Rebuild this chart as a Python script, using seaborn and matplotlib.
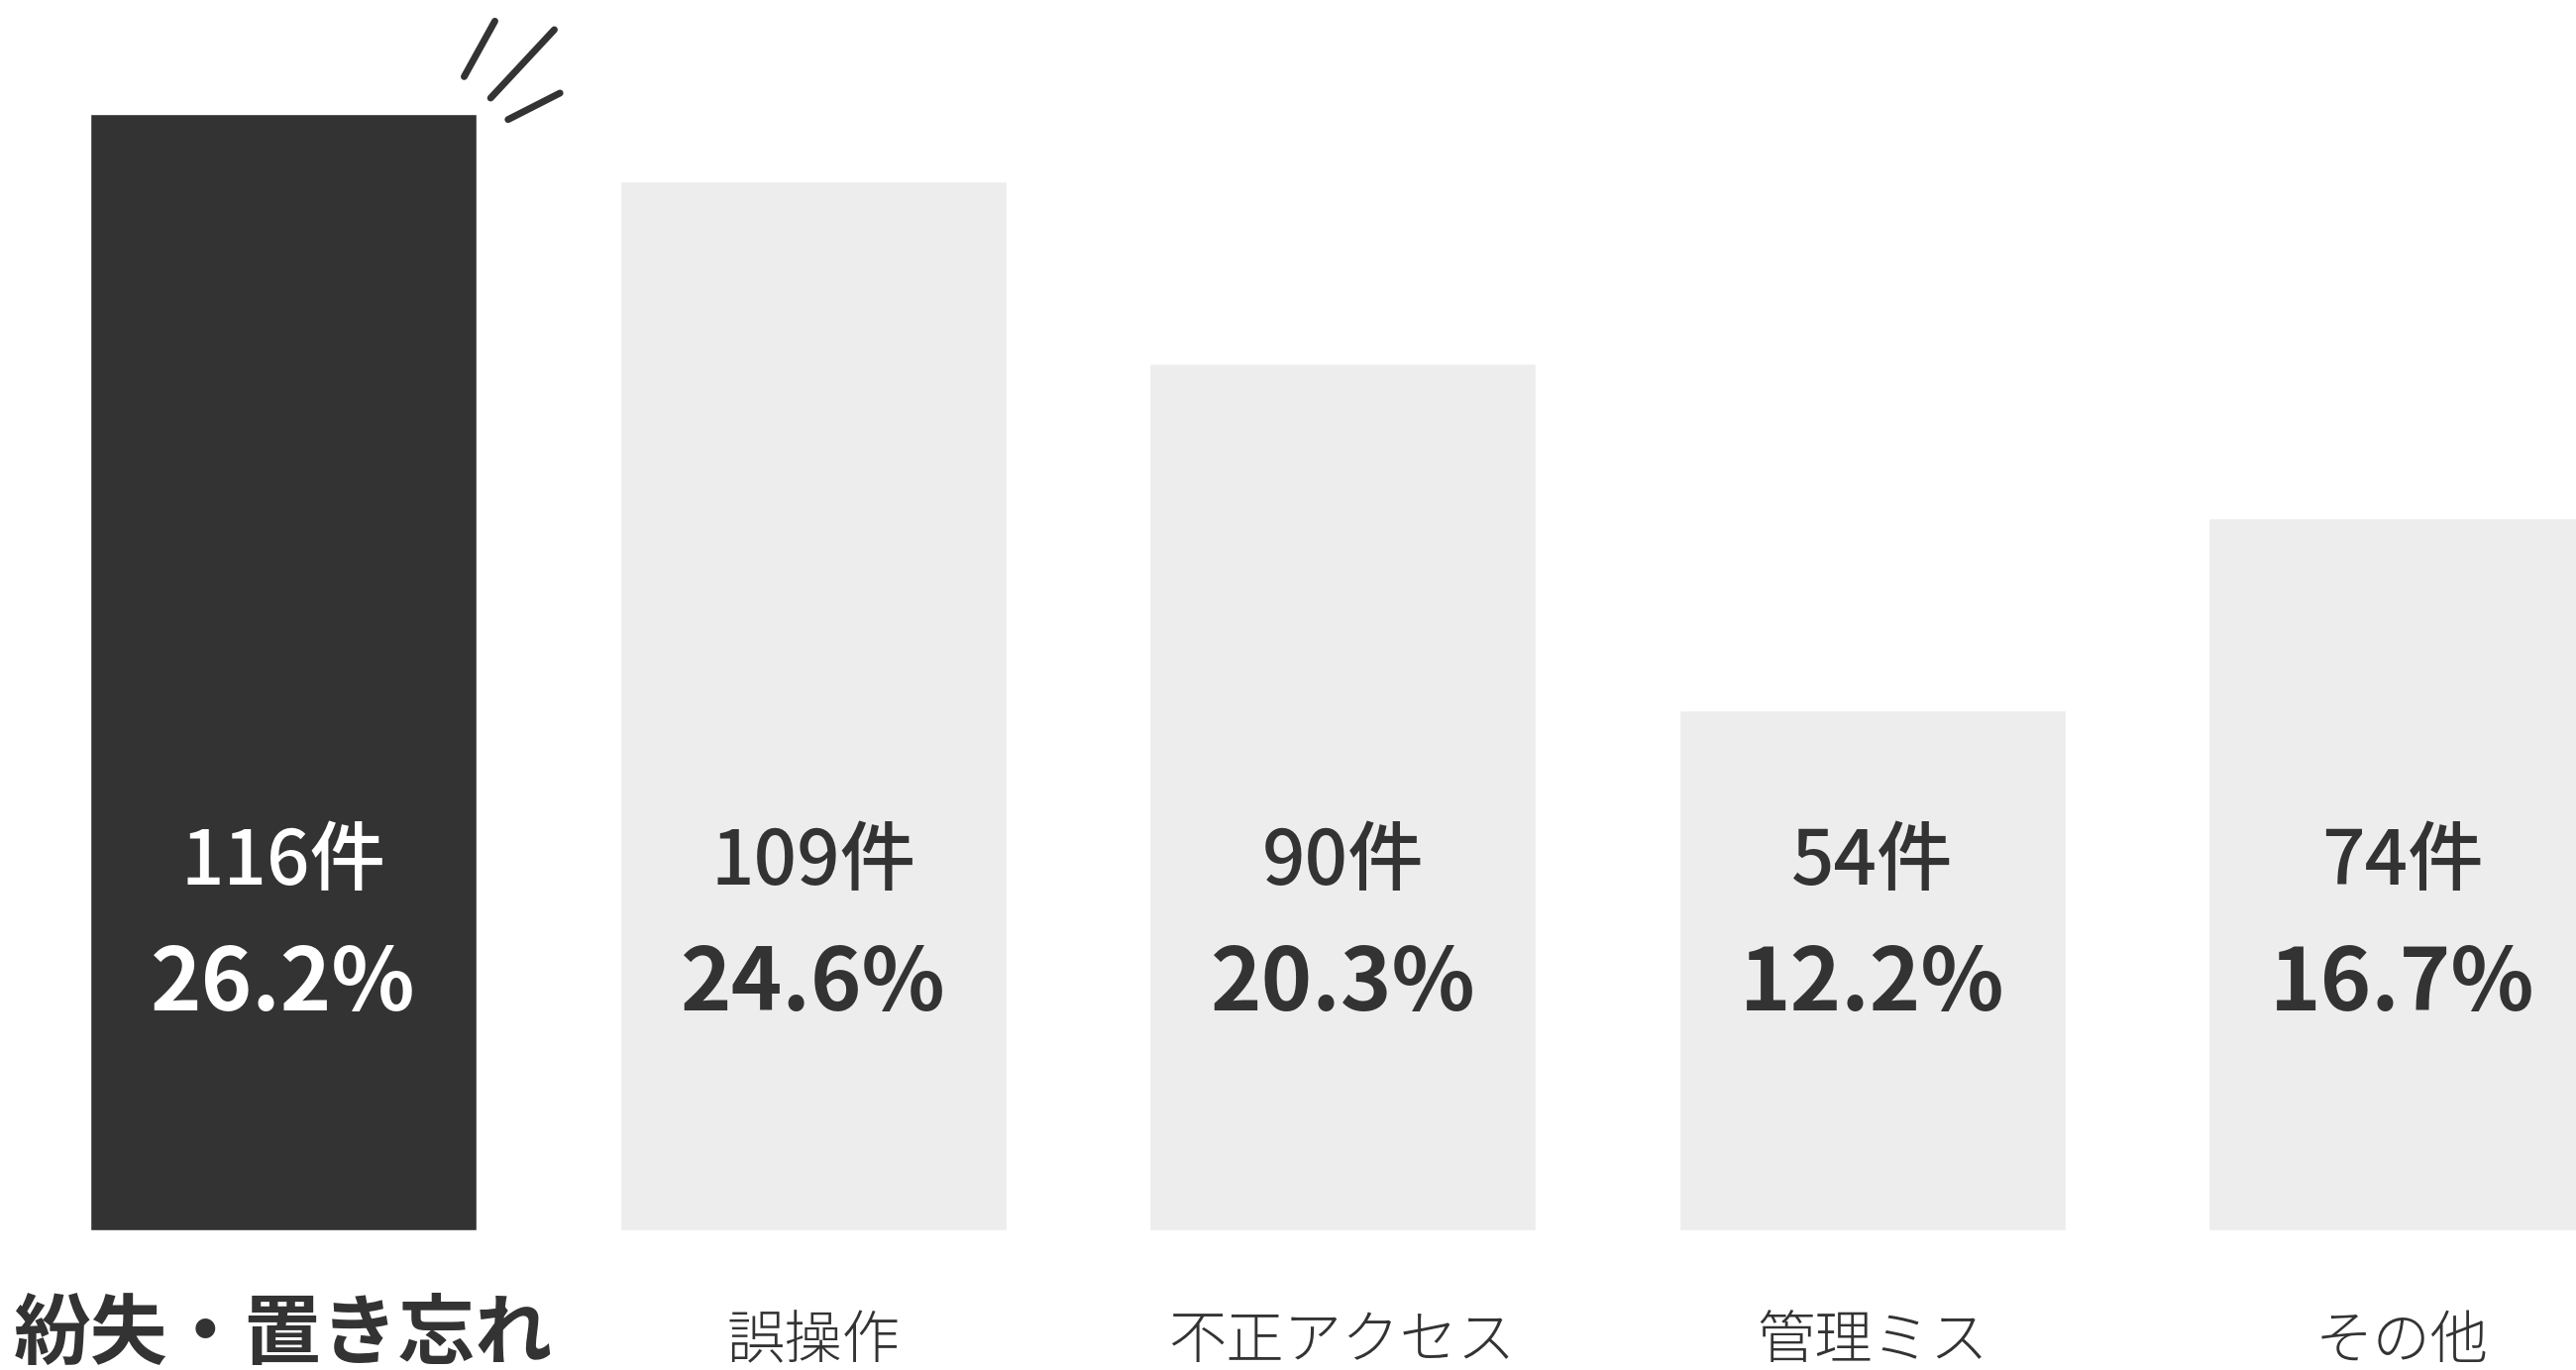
import matplotlib
matplotlib.use("Agg")
import matplotlib.pyplot as plt
import matplotlib.transforms as mtransforms
from matplotlib.lines import Line2D
import seaborn as sns

# データ
categories = ["紛失・置き忘れ", "誤操作", "不正アクセス", "管理ミス", "その他"]
counts = [116, 109, 90, 54, 74]
percents = ["26.2%", "24.6%", "20.3%", "12.2%", "16.7%"]

DARK = "#333333"
LIGHT = "#EDEDED"

sns.set_theme(style="white")
plt.rcParams["font.family"] = ["Noto Sans CJK JP", "DejaVu Sans"]

fig = plt.figure(figsize=(26, 13.83), dpi=100)
ax = fig.add_axes([0, 0.102, 1, 0.898])

bar_colors = [DARK] + [LIGHT] * (len(categories) - 1)
sns.barplot(x=categories, y=counts, hue=categories, palette=bar_colors,
            width=0.73, errorbar=None, legend=False, saturation=1, ax=ax)

ax.set_xlim(-0.535, 4.328)
ax.set_ylim(0, 127.8)
ax.set_axis_off()

# 件数とパーセント
for i, (c, p) in enumerate(zip(counts, percents)):
    col = "white" if i == 0 else DARK
    ax.text(i, 35.9, f"{c}件", ha="center", va="baseline",
            fontsize=55, fontweight="medium", color=col)
    ax.text(i, 22.8, p, ha="center", va="baseline",
            fontsize=63, fontweight="bold", color=col)

# カテゴリ名
trans = mtransforms.blended_transform_factory(ax.transData, fig.transFigure)
for i, name in enumerate(categories):
    if i == 0:
        ax.text(i, 0.0085, name, transform=trans, ha="center", va="baseline",
                fontsize=56, fontweight="bold", color=DARK, clip_on=False)
    else:
        ax.text(i, 0.0085, name, transform=trans, ha="center", va="baseline",
                fontsize=42, fontweight="light", color=DARK, clip_on=False)

# 強調の線（最初の棒の右上角を基準）
fig.canvas.draw()
cx, cy = ax.transData.transform((0.73 / 2, counts[0]))
strokes = [((-12.7, 37.3), (18.3, 93.3)),
           ((14.0, 15.7), (78.3, 84.7)),
           ((31.6, -6.0), (84.0, 20.7))]
for (x0, y0), (x1, y1) in strokes:
    fig.add_artist(Line2D([cx + x0, cx + x1], [cy + y0, cy + y1],
                          transform=mtransforms.IdentityTransform(),
                          color=DARK, linewidth=5, solid_capstyle="round"))

fig.savefig("out.png", dpi=100)
